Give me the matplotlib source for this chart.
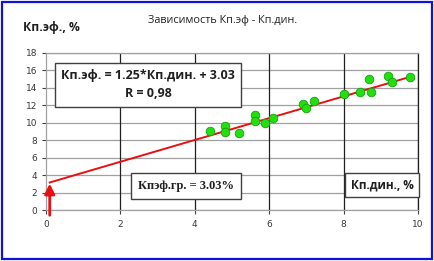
import matplotlib
matplotlib.use("Agg")
import matplotlib.pyplot as plt
from matplotlib.patches import Rectangle

# Data
kp_din = [4.40, 4.81, 4.81, 5.20, 5.63, 5.63, 5.89, 6.10, 6.90, 7.00, 7.21,
          8.01, 8.44, 8.69, 8.73, 9.20, 9.31, 9.78]
kp_ef = [9.1, 9.63, 8.9, 8.85, 10.85, 10.15, 9.94, 10.52, 12.12, 11.65, 12.5,
         13.25, 13.5, 15.0, 13.5, 15.38, 14.7, 15.25]
slope = 1.25
intercept = 3.03
trend_x = [0.1, 9.8]
arrow_x = 0.1
arrow_from = -0.6
xticks = [0, 2, 4, 6, 8, 10]
yticks = [0, 2, 4, 6, 8, 10, 12, 14, 16, 18]

W, H = 434, 261
fig = plt.figure(figsize=(W / 100, H / 100), dpi=100)
fig.patch.set_facecolor("white")

# Blue outer border
fig.patches.append(Rectangle((2 / W, 2 / H), (W - 4) / W, (H - 4) / H,
                             transform=fig.transFigure, fill=False,
                             edgecolor="#1010e0", linewidth=1.6))

ax = fig.add_axes([46 / W, 1 - 210 / H, (418 - 46) / W, (210 - 53) / H])
ax.set_xlim(0, 10)
ax.set_ylim(0, 18)
ax.set_xticks(xticks)
ax.set_yticks(yticks)
ax.tick_params(axis="both", labelsize=6.5, colors="#404040", length=3, width=0.8)
ax.tick_params(axis="x", length=3, pad=4)
for lab in ax.get_xticklabels() + ax.get_yticklabels():
    lab.set_color("#383838")

# grid
for y in yticks:
    ax.axhline(y, color="#a0a0a0", lw=0.9, zorder=0)
for x in xticks[1:]:
    ax.axvline(x, color="#202020", lw=0.9, zorder=0)
for s in ["top", "left", "bottom"]:
    ax.spines[s].set_color("#a0a0a0")
    ax.spines[s].set_linewidth(0.9)
ax.spines["right"].set_color("#202020")
ax.spines["right"].set_linewidth(0.9)

# trend line
ty = [slope * x + intercept for x in trend_x]
ax.plot(trend_x, ty, color="#e81010", lw=1.4, zorder=3)

# points
ax.plot(kp_din, kp_ef, "o", ms=6.2, mfc="#22e010", mec="#18a010", mew=0.6,
        zorder=4)

# arrow
ax.annotate("", xy=(arrow_x, intercept), xytext=(arrow_x, arrow_from),
            arrowprops=dict(arrowstyle="-|>,head_length=0.6,head_width=0.3",
                            color="#e81010", lw=2.0, shrinkA=0, shrinkB=0),
            annotation_clip=False, zorder=5)

# title and y label
fig.text(223 / W, 1 - 21 / H, "Зависимость Кп.эф - Кп.дин.", ha="center",
         va="center", fontsize=7.8, family="Open Sans", color="#202020")
fig.text(23 / W, 1 - 27 / H, "Кп.эф., %", ha="left", va="center",
         fontsize=8.7, fontweight="bold", family="Open Sans", color="#202020")

# text boxes
ax.text((148 - 46) / 37.2, (210 - 85) / 8.72,
        "Кп.эф. = 1.25*Кп.дин. + 3.03\nR = 0,98", ha="center", va="center",
        fontsize=9, fontweight="bold", family="Open Sans", color="#202020",
        linespacing=1.5,
        bbox=dict(boxstyle="square,pad=0.5", fc="white", ec="#404040", lw=1.0),
        zorder=6)
ax.text((186 - 46) / 37.2, (210 - 186) / 8.72, "Кпэф.гр. = 3.03%",
        ha="center", va="center", fontsize=9, fontweight="bold",
        family="Liberation Serif", color="#202020",
        bbox=dict(boxstyle="square,pad=0.55", fc="white", ec="#404040", lw=1.0),
        zorder=6)
ax.text((382 - 46) / 37.2, (210 - 185) / 8.72, "Кп.дин., %",
        ha="center", va="center", fontsize=8.5, fontweight="bold",
        family="Open Sans", color="#202020",
        bbox=dict(boxstyle="square,pad=0.45", fc="white", ec="#404040", lw=1.0),
        zorder=6)

fig.savefig("out.png", dpi=100)
